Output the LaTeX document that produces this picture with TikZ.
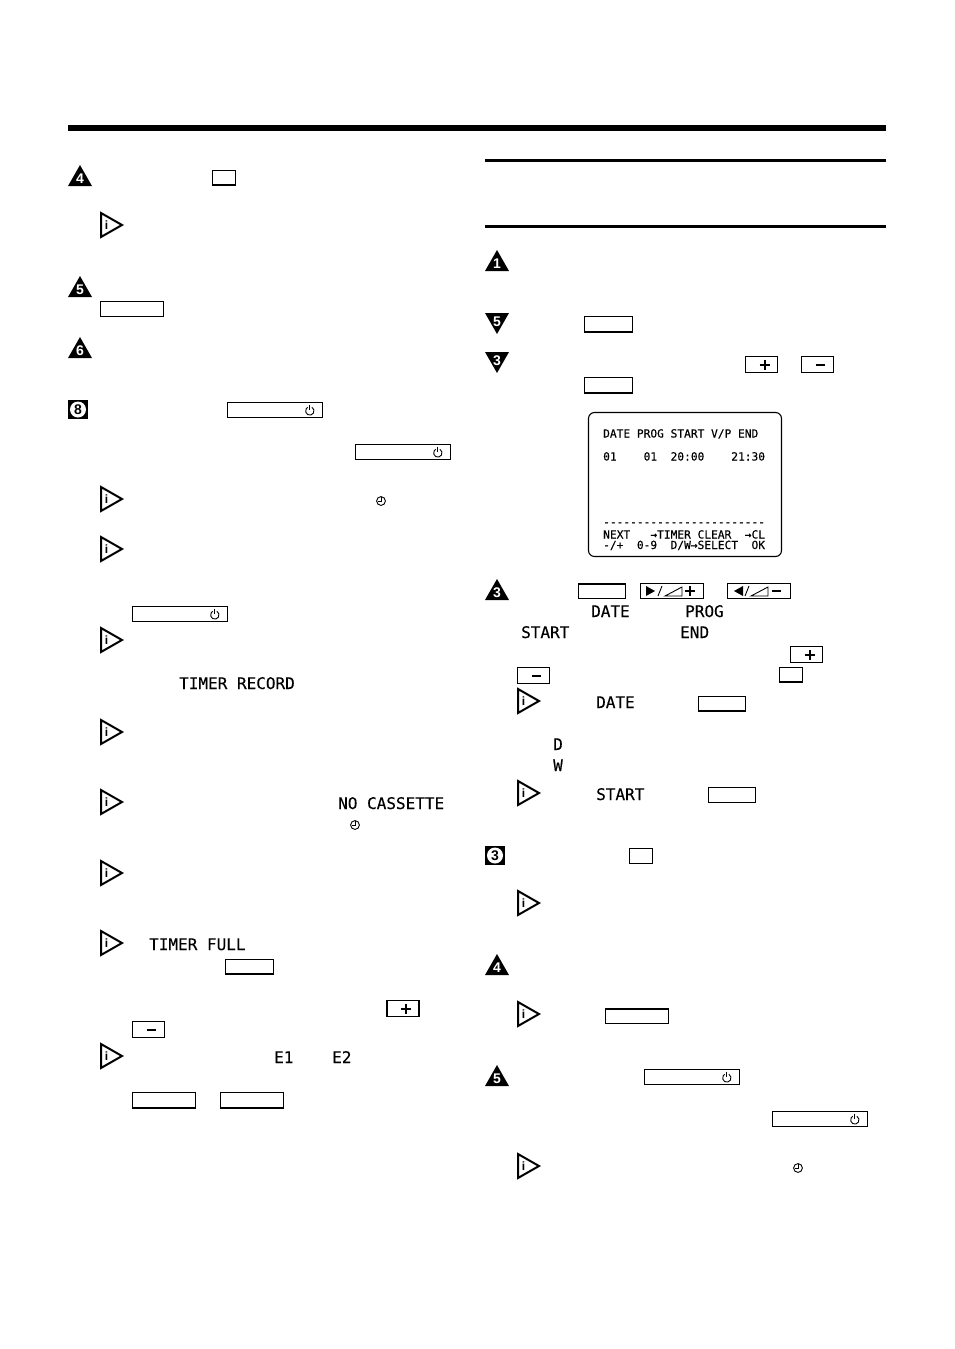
\documentclass[tikz,border=0pt]{standalone}
\usepackage{fontspec}
\setmainfont{Liberation Sans}
\newfontfamily\lcd[FakeBold=0.25]{DejaVu Sans Mono}
\tikzset{
  x=1pt,y=-1pt,
  bigtext/.style={inner sep=0pt,anchor=base west,font=\lcd\fontsize{16}{16}\selectfont},
  osd/.style={inner sep=0pt,anchor=base west,font=\lcd\fontsize{11.2}{11.2}\selectfont},
  keybox/.style={draw=black,line width=1.1pt,fill=white},
  heavy/.style={line width=2pt},
  digitw/.style={inner sep=0pt,text=white,font=\bfseries\fontsize{14}{14}\selectfont},
  digitb/.style={inner sep=0pt,text=black,font=\bfseries\fontsize{14}{14}\selectfont},
  infoi/.style={inner sep=0pt,font=\bfseries\fontsize{12}{12}\selectfont},
}
% plain key
\newcommand\keyb[4]{\draw[keybox] (#1,#2) rectangle (#3,#4);}
% key with heavy bottom edge
\newcommand\keyh[4]{\draw[keybox] (#1,#2) rectangle (#3,#4); \draw[line width=2pt] (#1-.5,#4) -- (#3+.5,#4);}
% key with standby symbol
\newcommand\keyp[4]{\keyb{#1}{#2}{#3}{#4}
  \draw[line width=.9pt] (#3-12.7+2.1,{(#2+#4)/2-2.7}) arc[start angle=60,end angle=-240,radius=4.2pt];
  \draw[line width=.9pt] (#3-12.7,{(#2+#4)/2-5.5}) -- (#3-12.7,{(#2+#4)/2-.5});}
\newcommand\keyplus[2]{\keyb{#1}{#2}{#1+32}{#2+16}
  \draw[line width=2pt] (#1+14,#2+8) -- (#1+24,#2+8) (#1+19,#2+3) -- (#1+19,#2+13);}
\newcommand\keyminus[2]{\keyb{#1}{#2}{#1+32}{#2+16}
  \draw[line width=2pt] (#1+14,#2+8) -- (#1+23,#2+8);}
% solid triangles
\newcommand\tup[3]{\fill (#1-12,#2+21) -- (#1,#2) -- (#1+12,#2+21) -- cycle;
  \node[digitw] (tu#1x#2) at (#1,#2+13.5) {#3};}
\newcommand\tdn[3]{\fill (#1-12,#2) -- (#1,#2+21) -- (#1+12,#2) -- cycle;
  \node[digitw] (td#1x#2) at (#1,#2+9) {#3};}
\newcommand\tsq[3]{\fill (#1,#2) rectangle (#1+20,#2+19);
  \fill[white] (#1+10,#2+9.5) circle (8);
  \node[digitb] (sq#1x#2) at (#1+10,#2+9.7) {#3};}
% info triangle
\newcommand\info[2]{\draw[heavy,line join=miter] (#1+1,#2-12) -- (#1+22,#2) -- (#1+1,#2+12) -- cycle;
  \node[infoi] (in#1x#2) at (#1+6.5,#2+.5) {i};}
% clock
\newcommand\clk[2]{\draw[line width=.9pt] (#1,#2) circle (4.4);
  \draw[line width=.9pt] (#1,#2-4) -- (#1,#2) -- (#1-3.5,#2);}
\begin{document}
\begin{tikzpicture}
\useasboundingbox (0,0) rectangle (954,1349);
\fill[white] (0,0) rectangle (954,1349);
% rules
\fill (68,125) rectangle (886,130.5);
\fill (485,159) rectangle (886,162);
\fill (485,225) rectangle (886,228);
% left column markers
\tup{80}{165}{4}
\tup{80}{276}{5}
\tup{80}{337}{6}
\tsq{68}{400}{8}
\foreach \yy in {225,499,549,640,732,802,873,943,1056} {\info{100}{\yy}}
% left column keys
\keyh{212.5}{170.5}{235.5}{185}
\keyb{100.5}{301.5}{163.5}{316.5}
\keyp{227.5}{402.5}{322.5}{417.5}
\keyp{355.5}{444.5}{450.5}{459.5}
\keyp{132.5}{606.5}{227.5}{621.5}
\keyh{225.5}{959.5}{273.5}{974}
\keyplus{387}{1000.5}
\keyminus{132.5}{1021.5}
\keyh{132.5}{1092.5}{195.5}{1107.5}
\keyh{220.5}{1092.5}{283.5}{1107.5}
\clk{381}{501}
\clk{355}{825}
% left column texts
\node[bigtext] (t1) at (179,689) {TIMER RECORD};
\node[bigtext] (t2) at (338,809) {NO CASSETTE};
\node[bigtext] (t3) at (149,950) {TIMER FULL};
\node[bigtext] (t4) at (274,1063) {E1};
\node[bigtext] (t5) at (332,1063) {E2};
% right column markers
\tup{497}{250}{1}
\tdn{497}{313}{5}
\tdn{497}{352}{3}
\tup{497}{579}{3}
\tsq{485}{846}{3}
\tup{497}{954}{4}
\tup{497}{1065}{5}
\foreach \yy in {701,793,903,1014,1166} {\info{517}{\yy}}
% right column keys
\keyh{584.5}{316.5}{632.5}{331.5}
\keyplus{745.5}{356.5}
\keyminus{801.5}{356.5}
\keyh{584.5}{377.5}{632.5}{392.5}
\keyb{578.5}{583.5}{625.5}{598.5}
\draw[line width=2pt] (578,584) -- (626,584);
% play / volume keys
\keyb{640.5}{583.5}{703.5}{598.5}
\fill (646,586) -- (655,591) -- (646,596) -- cycle;
\draw[line width=.9pt] (658,596) -- (662,586);
\draw[line width=.9pt] (665,596) -- (682,596) -- (682,587) -- cycle;
\draw[line width=2pt] (685,591) -- (695,591) (690,586) -- (690,596);
\keyb{727.5}{583.5}{790.5}{598.5}
\fill (743,586) -- (734,591) -- (743,596) -- cycle;
\draw[line width=.9pt] (745,596) -- (749,586);
\draw[line width=.9pt] (751,596) -- (768,596) -- (768,587) -- cycle;
\draw[line width=2pt] (772,591) -- (781,591);
\keyplus{790.5}{646.5}
\keyminus{517.5}{667.5}
\keyh{779.5}{667.5}{802.5}{682}
\keyh{698.5}{696.5}{745.5}{710.5}
\keyb{708.5}{787.5}{755.5}{802.5}
\keyb{629.5}{848.5}{652.5}{863.5}
\keyb{605.5}{1008.5}{668.5}{1023.5}
\draw[line width=2pt] (605,1009) -- (669,1009);
\keyp{644.5}{1069.5}{739.5}{1084.5}
\keyp{772.5}{1111.5}{867.5}{1126.5}
\clk{798}{1168}
% right column texts
\node[bigtext] (r1) at (591,617) {DATE};
\node[bigtext] (r2) at (685,617) {PROG};
\node[bigtext] (r3) at (521,638) {START};
\node[bigtext] (r4) at (680,638) {END};
\node[bigtext] (r5) at (596,708) {DATE};
\node[bigtext] (r6) at (553,750) {D};
\node[bigtext] (r7) at (553,771) {W};
\node[bigtext] (r8) at (596,800) {START};
% on-screen display
\draw[line width=1.1pt,rounded corners=6pt] (588.5,412.5) rectangle (781.5,556.5);
\node[osd] (o1) at (603,437.5) {DATE PROG START V/P END};
\node[osd] (o2) at (603,460.5) {01~~~~01~~20:00~~~~21:30};
\def\dsh{-\kern0pt}
\node[osd] (o3) at (603,526) {\dsh\dsh\dsh\dsh\dsh\dsh\dsh\dsh\dsh\dsh\dsh\dsh\dsh\dsh\dsh\dsh\dsh\dsh\dsh\dsh\dsh\dsh\dsh\dsh};
\node[osd] (o4) at (603,538.5) {NEXT~~~→TIMER CLEAR~~→CL};
\node[osd] (o5) at (603,549) {-/+~~0-9~~D/W→SELECT~~OK};
\end{tikzpicture}
\end{document}
